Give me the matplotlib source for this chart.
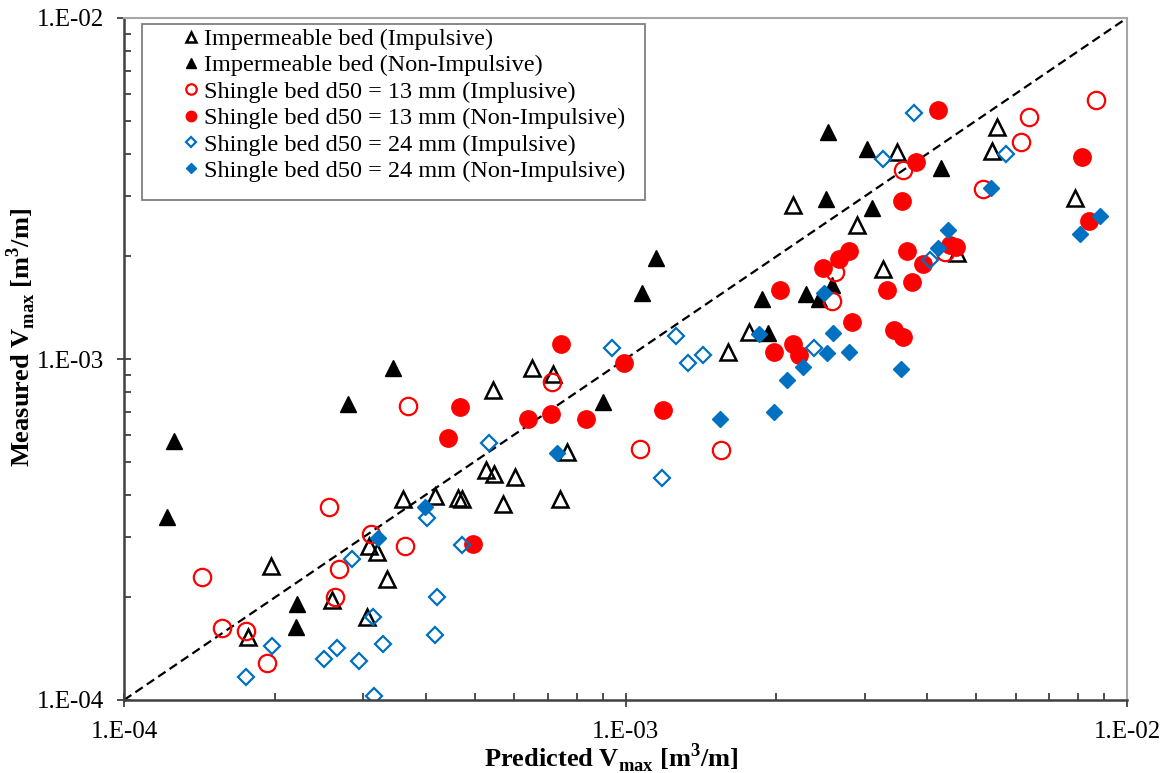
import matplotlib
matplotlib.use("Agg")
import matplotlib.pyplot as plt
from matplotlib.patches import Rectangle
from matplotlib.ticker import LogLocator, NullFormatter

plt.rcParams["font.family"] = ["Liberation Serif", "DejaVu Serif"]
plt.rcParams["mathtext.fontset"] = "custom"
plt.rcParams["mathtext.rm"] = "Liberation Serif"
plt.rcParams["mathtext.bf"] = "Liberation Serif:bold"

# Predicted / measured V_max [m3/m] for each series
imp_impulsive_pred = [1.77e-4, 1.96e-4, 2.60e-4, 3.05e-4, 3.08e-4, 3.19e-4, 3.35e-4, 3.60e-4,
                      4.17e-4, 4.63e-4, 4.72e-4, 5.27e-4, 5.47e-4, 6.02e-4, 5.70e-4, 5.44e-4,
                      6.51e-4, 7.17e-4, 7.40e-4, 7.64e-4, 1.60e-3, 1.76e-3, 2.16e-3, 2.89e-3,
                      3.26e-3, 3.48e-3, 4.58e-3, 5.38e-3, 5.51e-3, 7.88e-3]
imp_impulsive_meas = [1.53e-4, 2.47e-4, 1.96e-4, 1.75e-4, 2.83e-4, 2.72e-4, 2.26e-4, 3.88e-4,
                      3.96e-4, 3.91e-4, 3.88e-4, 4.73e-4, 4.60e-4, 4.51e-4, 3.76e-4, 8.11e-4,
                      9.41e-4, 9.04e-4, 3.88e-4, 5.34e-4, 1.05e-3, 1.20e-3, 2.83e-3, 2.47e-3,
                      1.84e-3, 4.05e-3, 2.05e-3, 4.07e-3, 4.79e-3, 2.97e-3]

imp_nonimp_pred = [1.26e-4, 1.22e-4, 2.21e-4, 2.20e-4, 2.80e-4, 3.44e-4, 9.02e-4, 1.15e-3,
                   1.08e-3, 2.53e-3, 3.03e-3, 2.51e-3, 3.10e-3, 4.26e-3, 1.87e-3, 2.29e-3,
                   2.43e-3, 2.58e-3, 1.92e-3]
imp_nonimp_meas = [5.75e-4, 3.44e-4, 1.91e-4, 1.64e-4, 7.38e-4, 9.41e-4, 7.48e-4, 1.98e-3,
                   1.56e-3, 4.63e-3, 4.13e-3, 2.94e-3, 2.77e-3, 3.63e-3, 1.50e-3, 1.55e-3,
                   1.50e-3, 1.65e-3, 1.19e-3]

sh13_impulsive_pred = [1.43e-4, 1.57e-4, 1.75e-4, 1.93e-4, 2.56e-4, 2.63e-4, 2.68e-4, 3.11e-4,
                       3.63e-4, 3.68e-4, 7.14e-4, 1.07e-3, 1.55e-3, 8.68e-3, 6.38e-3, 6.15e-3,
                       3.58e-3, 5.16e-3, 2.62e-3, 2.58e-3, 4.34e-3]
sh13_impulsive_meas = [2.29e-4, 1.63e-4, 1.59e-4, 1.28e-4, 3.68e-4, 2.00e-4, 2.42e-4, 3.07e-4,
                       2.83e-4, 7.28e-4, 8.56e-4, 5.45e-4, 5.41e-4, 5.75e-3, 5.13e-3, 4.33e-3,
                       3.58e-3, 3.15e-3, 1.80e-3, 1.48e-3, 2.06e-3]

sh13_nonimp_pred = [7.44e-4, 9.93e-4, 4.68e-4, 4.43e-4, 6.39e-4, 7.10e-4, 8.34e-4, 1.19e-3,
                    4.97e-4, 4.20e-3, 3.80e-3, 3.56e-3, 8.13e-3, 8.40e-3, 2.79e-3, 2.67e-3,
                    2.48e-3, 3.64e-3, 3.92e-3, 3.73e-3, 3.32e-3, 2.03e-3, 2.83e-3, 3.43e-3,
                    3.58e-3, 2.16e-3, 2.22e-3, 1.98e-3, 4.44e-3, 4.56e-3]
sh13_nonimp_meas = [1.11e-3, 9.73e-4, 7.23e-4, 5.87e-4, 6.67e-4, 6.90e-4, 6.67e-4, 7.09e-4,
                    2.87e-4, 5.37e-3, 3.78e-3, 2.91e-3, 3.91e-3, 2.54e-3, 2.07e-3, 1.96e-3,
                    1.85e-3, 2.07e-3, 1.90e-3, 1.68e-3, 1.59e-3, 1.59e-3, 1.28e-3, 1.22e-3,
                    1.16e-3, 1.11e-3, 1.03e-3, 1.05e-3, 2.16e-3, 2.13e-3]

sh24_impulsive_pred = [1.75e-4, 1.97e-4, 2.51e-4, 2.66e-4, 2.85e-4, 2.94e-4, 3.14e-4, 3.15e-4,
                       3.29e-4, 4.02e-4, 4.17e-4, 4.21e-4, 4.72e-4, 5.34e-4, 9.40e-4, 1.18e-3,
                       1.26e-3, 1.33e-3, 1.43e-3, 3.76e-3, 3.26e-3, 5.74e-3, 4.05e-3, 2.38e-3]
sh24_impulsive_meas = [1.17e-4, 1.44e-4, 1.32e-4, 1.42e-4, 2.59e-4, 1.30e-4, 1.75e-4, 1.03e-4,
                       1.46e-4, 3.42e-4, 1.55e-4, 2.00e-4, 2.85e-4, 5.67e-4, 1.08e-3, 4.48e-4,
                       1.17e-3, 9.73e-4, 1.03e-3, 5.27e-3, 3.86e-3, 3.99e-3, 1.95e-3, 1.08e-3]

sh24_nonimp_pred = [3.21e-4, 3.98e-4, 7.30e-4, 1.54e-3, 5.36e-3, 8.84e-3, 8.06e-3, 4.40e-3,
                    4.20e-3, 2.49e-3, 1.85e-3, 2.59e-3, 2.52e-3, 2.79e-3, 2.26e-3, 2.10e-3,
                    1.98e-3, 3.54e-3]
sh24_nonimp_meas = [2.99e-4, 3.68e-4, 5.30e-4, 6.67e-4, 3.17e-3, 2.63e-3, 2.33e-3, 2.39e-3,
                    2.12e-3, 1.56e-3, 1.18e-3, 1.19e-3, 1.04e-3, 1.05e-3, 9.47e-4, 8.68e-4,
                    6.99e-4, 9.35e-4]

lims = [1e-4, 1e-2]
tick_vals = [1e-4, 1e-3, 1e-2]
tick_labels = ["1.E-04", "1.E-03", "1.E-02"]

red = "#FF0000"
blue = "#0070C0"

fig = plt.figure(figsize=(11.69, 7.73), dpi=100)
ax = fig.add_axes([124 / 1169, 73 / 773, 1003 / 1169, 682 / 773])

# line of perfect agreement
ax.plot(lims, lims, color="black", lw=1.6, linestyle=(0, (4, 2.2)), zorder=1)

ax.plot(imp_impulsive_pred, imp_impulsive_meas, "^", ms=12, mfc="none", mec="black", mew=1.8,
        label="Impermeable bed (Impulsive)")
ax.plot(imp_nonimp_pred, imp_nonimp_meas, "^", ms=12, mfc="black", mec="black", mew=1,
        label="Impermeable bed (Non-Impulsive)")
ax.plot(sh13_impulsive_pred, sh13_impulsive_meas, "o", ms=12.5, mfc="none", mec=red, mew=1.6,
        label="Shingle bed d50 = 13 mm (Implusive)")
ax.plot(sh13_nonimp_pred, sh13_nonimp_meas, "o", ms=12.5, mfc=red, mec=red, mew=1,
        label="Shingle bed d50 = 13 mm (Non-Impulsive)")
ax.plot(sh24_impulsive_pred, sh24_impulsive_meas, "D", ms=8.5, mfc="none", mec=blue, mew=1.6,
        label="Shingle bed d50 = 24 mm (Impulsive)")
ax.plot(sh24_nonimp_pred, sh24_nonimp_meas, "D", ms=8.5, mfc=blue, mec=blue, mew=1,
        label="Shingle bed d50 = 24 mm (Non-Impulsive)")

ax.set_xscale("log")
ax.set_yscale("log")
ax.set_xlim(lims)
ax.set_ylim(lims)

for axis in (ax.xaxis, ax.yaxis):
    axis.set_major_locator(LogLocator(base=10))
    axis.set_minor_locator(LogLocator(base=10, subs=range(2, 10)))
    axis.set_minor_formatter(NullFormatter())
ax.set_xticks(tick_vals, tick_labels)
ax.set_yticks(tick_vals, tick_labels)
ax.tick_params(which="major", direction="inout", length=10, width=1.3, color="#404040",
               labelsize=18)
ax.tick_params(axis="x", which="major", pad=10)
ax.tick_params(axis="y", which="major", pad=9)
ax.tick_params(which="minor", direction="in", length=5, width=1.3, color="#404040")

ax.spines["left"].set_color("#404040")
ax.spines["bottom"].set_color("#404040")
ax.spines["left"].set_linewidth(1.8)
ax.spines["bottom"].set_linewidth(1.8)
ax.spines["top"].set_color("#A6A6A6")
ax.spines["right"].set_color("#A6A6A6")
ax.spines["top"].set_linewidth(1.5)
ax.spines["right"].set_linewidth(1.5)

ax.set_xlabel(r"Predicted V$_{\mathbf{max}}$ [m$^{\mathbf{3}}$/m]", fontsize=19, fontweight="bold")
ax.set_ylabel(r"Measured V$_{\mathbf{max}}$ [m$^{\mathbf{3}}$/m]", fontsize=19, fontweight="bold")
ax.xaxis.set_label_coords(0.4856, -0.061)
ax.yaxis.set_label_coords(-0.086, 0.532)

# legend box drawn separately so the markers can sit further in
ax.add_patch(Rectangle((0.0179, 0.7331), 0.5015, 0.2581, transform=ax.transAxes,
                       facecolor="white", edgecolor="#7F7F7F", lw=1.3, zorder=4))
leg = ax.legend(loc="upper left", bbox_to_anchor=(0.0548, 0.9853), frameon=False,
                fontsize=17.5, markerscale=0.6, handlelength=1.0, handletextpad=0.05,
                borderpad=0, borderaxespad=0, labelspacing=0.18, numpoints=1)
leg.set_zorder(5)

plt.savefig("out.png", dpi=100)
